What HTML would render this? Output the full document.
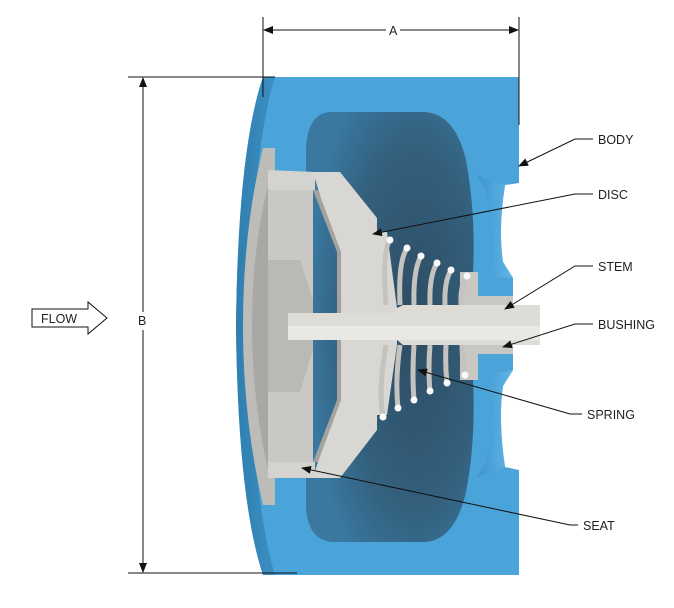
<!DOCTYPE html>
<html><head><meta charset="utf-8"><style>
html,body{margin:0;padding:0;background:#fff;}
svg{display:block;}
text{font-family:"Liberation Sans",sans-serif;font-size:12.5px;fill:#222;}
</style></head><body>
<svg width="674" height="608" viewBox="0 0 674 608" xmlns="http://www.w3.org/2000/svg">
<defs>
<marker id="ar" markerWidth="10" markerHeight="8" refX="9" refY="4" orient="auto" markerUnits="userSpaceOnUse">
<path d="M0,0 L10,4 L0,8 Z" fill="#111"/></marker>
<radialGradient id="cav" cx="0.65" cy="0.5" r="0.65">
<stop offset="0" stop-color="#2e4c62"/><stop offset="0.65" stop-color="#33607d"/><stop offset="1" stop-color="#3a78a0"/></radialGradient>
<linearGradient id="edge" x1="0" x2="1"><stop offset="0" stop-color="#2f7fae"/><stop offset="1" stop-color="#3d8fc4"/></linearGradient>
<linearGradient id="bore" x1="0" x2="1"><stop offset="0" stop-color="#3d94cc"/><stop offset="1" stop-color="#62b6e6"/></linearGradient>
</defs>

<!-- body outer -->
<path d="M263,77 L519,77 L519,183 L505,185 Q498,230 503,262 L513,278 L513,370 L503,386 Q498,420 505,467 L519,470 L519,575 L263,575 Q238,500 236,326 Q238,150 263,77 Z" fill="#4aa3d9"/>
<path d="M263,77 Q238,150 236,326 Q238,500 263,575 L275,575 Q252,500 250,326 Q252,150 275,77 Z" fill="url(#edge)"/>
<!-- bore inner lighter -->
<path d="M476,175 Q490,190 492,230 Q494,262 490,276 L513,278 L503,262 Q498,230 505,185 L490,180 Z" fill="url(#bore)"/>
<path d="M476,477 Q490,462 492,422 Q494,390 490,374 L513,370 L503,386 Q498,420 505,467 L490,472 Z" fill="url(#bore)"/>
<!-- cavity -->
<path d="M332,112 L425,112 Q455,114 466,160 Q476,215 473,272 L460,272 L460,380 L473,380 Q476,440 466,492 Q455,540 425,542 L332,542 Q307,540 306,505 L306,150 Q307,112 332,112 Z" fill="url(#cav)"/>

<!-- seat face -->
<path d="M263,148 L275,148 L275,505 L263,505 Q243,420 243,326 Q243,230 263,148 Z" fill="#bdbcb8"/>
<path d="M268,185 Q252,250 252,326 Q252,400 268,470 L268,185 Z" fill="#a9a8a4"/>
<!-- seat body -->
<path d="M268,170 L315,172 L315,190 L268,190 Z M268,462 L315,462 L315,478 L268,478 Z" fill="#d4d3cf"/>
<rect x="268" y="190" width="45" height="272" fill="#c9c8c4"/>
<path d="M268,260 L300,260 L313,300 L313,350 L300,392 L268,392 Z" fill="#bab9b5"/>
<!-- disc -->
<path d="M313,172 L340,172 L377,218 L377,232 L387,232 L397,308 L397,345 L387,415 L377,415 L377,430 L340,478 L313,478 L337,400 L337,252 Z" fill="#d8d7d3"/>
<path d="M313,190 L337,252 L337,400 L313,462 L318,462 L341,400 L341,252 L318,190 Z" fill="#a3a29e"/>
<!-- bushing -->
<rect x="460" y="272" width="18" height="108" fill="#c8c7c2"/>
<rect x="478" y="296" width="35" height="9" fill="#c8c7c2"/>
<rect x="478" y="345" width="35" height="9" fill="#c8c7c2"/>
<!-- stem -->
<rect x="288" y="313" width="115" height="27" fill="#dddcd7"/>
<path d="M397,308 L403,305 L540,305 L540,345 L403,345 L397,340 Z" fill="#dddcd7"/>
<rect x="288" y="326" width="252" height="14" fill="#eeede9" opacity="0.7"/>
<!-- spring -->
<g fill="none" stroke="#c4c3bf" stroke-width="5">
<path d="M390,240 Q382,250 386,305"/><path d="M383,417 Q378,390 386,345"/>
<path d="M407,248 Q398,262 400,305"/><path d="M398,408 Q395,380 400,345"/>
<path d="M421,256 Q413,270 414,305"/><path d="M414,400 Q412,375 414,345"/>
<path d="M437,263 Q429,276 430,305"/><path d="M430,391 Q428,370 430,345"/>
<path d="M451,270 Q444,282 445,305"/><path d="M447,383 Q445,365 446,345"/>
<path d="M467,276 Q460,285 461,305"/><path d="M465,375 Q462,360 462,345"/>
</g>
<g fill="#fafafa">
<circle cx="390" cy="240" r="3.5"/><circle cx="407" cy="248" r="3.5"/><circle cx="421" cy="256" r="3.5"/><circle cx="437" cy="263" r="3.5"/><circle cx="451" cy="270" r="3.5"/><circle cx="467" cy="276" r="3.5"/>
<circle cx="383" cy="417" r="3.5"/><circle cx="398" cy="408" r="3.5"/><circle cx="414" cy="400" r="3.5"/><circle cx="430" cy="391" r="3.5"/><circle cx="447" cy="383" r="3.5"/><circle cx="465" cy="375" r="3.5"/>
</g>

<!-- dimensions -->
<g stroke="#111" stroke-width="1" fill="none">
<line x1="263" y1="17" x2="263" y2="97"/>
<line x1="519" y1="17" x2="519" y2="125"/>
<line x1="386" y1="30" x2="264" y2="30" marker-end="url(#ar)"/>
<line x1="400" y1="30" x2="518" y2="30" marker-end="url(#ar)"/>
<line x1="128" y1="77" x2="275" y2="77"/>
<line x1="128" y1="573" x2="297" y2="573"/>
<line x1="143" y1="312" x2="143" y2="78" marker-end="url(#ar)"/>
<line x1="143" y1="330" x2="143" y2="572" marker-end="url(#ar)"/>
<!-- leaders -->
<polyline points="593,139 575,139 519,166" marker-end="url(#ar)"/>
<polyline points="593,194 575,194 373,234" marker-end="url(#ar)"/>
<polyline points="593,266 575,266 505,309" marker-end="url(#ar)"/>
<polyline points="593,324 575,324 503,347" marker-end="url(#ar)"/>
<polyline points="582,414 570,414 418,370" marker-end="url(#ar)"/>
<polyline points="578,525 570,525 302,468" marker-end="url(#ar)"/>
<!-- flow arrow -->
<path d="M32,309 L88,309 L88,302 L107,318 L88,334 L88,327 L32,327 Z"/>
</g>
<text x="389" y="35">A</text>
<text x="138" y="325">B</text>
<text x="41" y="323">FLOW</text>
<text x="598" y="144">BODY</text>
<text x="598" y="199">DISC</text>
<text x="598" y="271">STEM</text>
<text x="598" y="329">BUSHING</text>
<text x="587" y="419">SPRING</text>
<text x="583" y="530">SEAT</text>
</svg>
</body></html>
